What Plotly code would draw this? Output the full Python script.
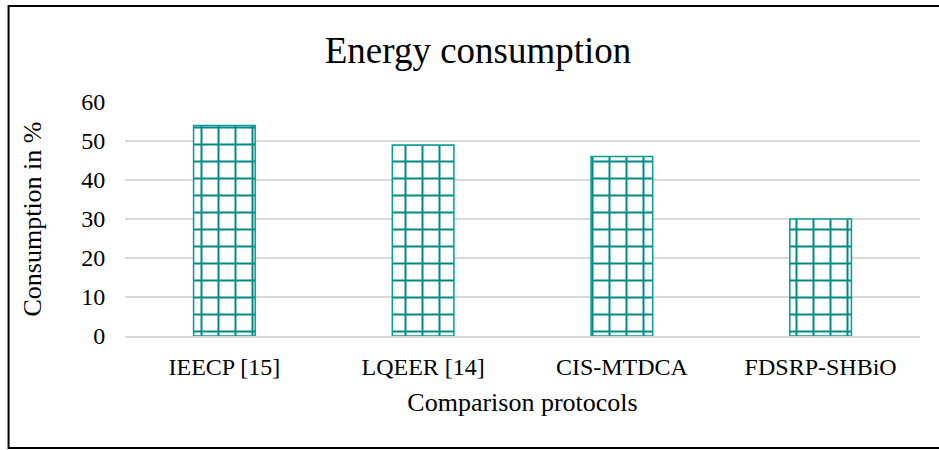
import plotly.graph_objects as go

categories = ["IEECP [15]", "LQEER [14]", "CIS-MTDCA", "FDSRP-SHBiO"]
values = [54, 49, 46, 30]
y_ticks = [0, 10, 20, 30, 40, 50, 60]

teal = "#079A96"
pattern_teal = "#008A85"
W, H = 939, 450
L, R, T, B = 124.5, 19, 102, 114
pw = W - L - R
ph = H - T - B

fig = go.Figure(go.Bar(
    x=categories, y=values,
    marker=dict(color="white",
                line=dict(color=teal, width=1.5),
                pattern=dict(shape="+", fgcolor=pattern_teal, fgopacity=1, bgcolor="white",
                             size=17, solidity=0.22)),
))

fig.update_layout(
    width=W, height=H,
    margin=dict(l=L, r=R, t=T, b=B),
    paper_bgcolor="white", plot_bgcolor="white",
    bargap=0.69,
    showlegend=False,
    font=dict(family="Liberation Serif", color="black"),
    title=dict(text="Energy consumption", x=478 / W, xref="container", xanchor="center",
               y=1 - 50 / H, yref="container", yanchor="middle",
               font=dict(family="Liberation Serif", size=37, color="black")),
    xaxis=dict(title=dict(text="Comparison protocols", font=dict(size=26), standoff=14),
               tickfont=dict(size=24), showgrid=False, showline=True, linecolor="#d9d9d9",
               linewidth=1.5, ticks="outside", tickcolor="rgba(0,0,0,0)", ticklen=8),
    yaxis=dict(title=dict(text="Consumption in %", font=dict(size=26), standoff=32),
               range=[0, 60], tickvals=y_ticks, tickfont=dict(size=24),
               showgrid=True, gridcolor="#d9d9d9", gridwidth=1.5, zeroline=False,
               showline=False, ticks="outside", tickcolor="rgba(0,0,0,0)", ticklen=14),
    shapes=[dict(type="rect", xref="paper", yref="paper",
                 x0=(8 - L) / pw, x1=(W + 10 - L) / pw,
                 y0=(H - B - 448) / ph, y1=(H - B - 6) / ph,
                 line=dict(color="black", width=2), fillcolor="rgba(0,0,0,0)", layer="above")],
)

fig.write_html("out.html", config={"displayModeBar": False},
               post_script="document.body.style.margin='0';document.body.style.overflow='hidden';")
